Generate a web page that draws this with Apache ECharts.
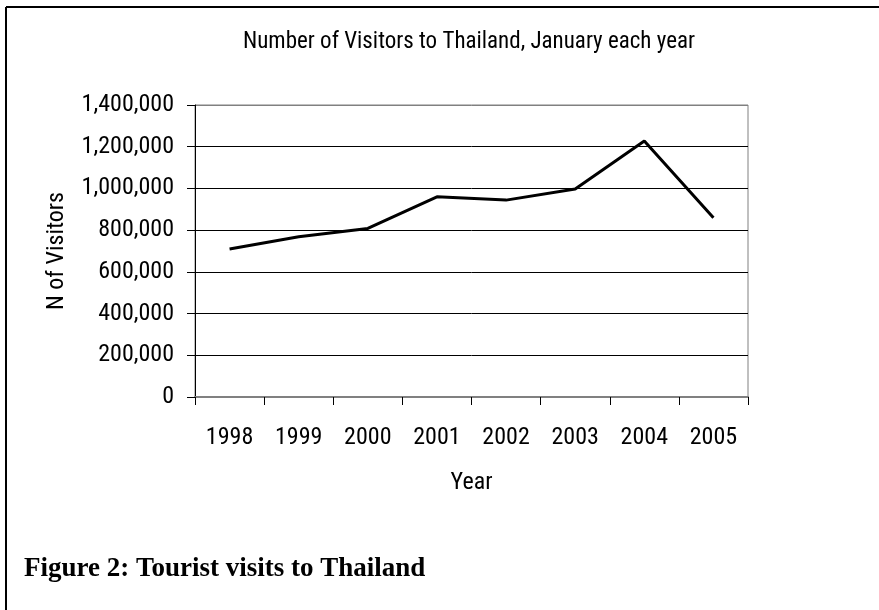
<!DOCTYPE html>
<html>
<head>
<meta charset="utf-8">
<script src="https://cdn.jsdelivr.net/npm/echarts@6/dist/echarts.min.js"></script>
<style>
html,body{margin:0;padding:0;background:#fff;}
#chart{width:879px;height:610px;}
</style>
</head>
<body>
<div id="chart"></div>
<script>
var years = ['1998','1999','2000','2001','2002','2003','2004','2005'];
var visitors = [710000, 768000, 808000, 960000, 944000, 997000, 1227000, 859000];
var chartTitle = 'Number of Visitors to Thailand, January each year';
var caption = 'Figure 2: Tourist visits to Thailand';
var xName = 'Year';
var yName = 'N of Visitors';

var FONT = '"Liberation Sans Narrow", "Roboto Condensed", "DejaVu Sans Condensed", "Liberation Sans", sans-serif';
var FS = 24;
var chart = echarts.init(document.getElementById('chart'), null, {renderer: 'canvas'});
chart.setOption({
  animation: false,
  backgroundColor: '#fff',
  title: [
    {text: chartTitle, left: 464, top: 26, textAlign: 'center',
     textStyle: {fontFamily: FONT, fontSize: 23, fontWeight: 'normal', color: '#000'}},
    {text: caption, left: 19, top: 551,
     textStyle: {fontFamily: '"Liberation Serif", "Times New Roman", serif', fontSize: 27, fontWeight: 'bold', color: '#000'}}
  ],
  graphic: [
    {type: 'line', shape: {x1: 6, y1: 7, x2: 879, y2: 7}, style: {stroke: '#000', lineWidth: 2}},
    {type: 'line', shape: {x1: 6, y1: 7, x2: 6, y2: 610}, style: {stroke: '#000', lineWidth: 2}}
  ],
  grid: {left: 195, right: 131, top: 105, bottom: 213, show: true, borderColor: '#808080', borderWidth: 1, containLabel: false},
  xAxis: {
    type: 'category', data: years, boundaryGap: true,
    name: xName, nameLocation: 'middle', nameGap: 74,
    nameTextStyle: {fontFamily: FONT, fontSize: FS, color: '#000'},
    axisLine: {show: true, lineStyle: {color: '#808080', width: 2}},
    axisTick: {show: true, interval: 0, length: 8, lineStyle: {color: '#000', width: 1}},
    axisLabel: {interval: 0, margin: 29, fontFamily: FONT, fontSize: FS, color: '#000'},
    splitLine: {show: false}
  },
  yAxis: {
    type: 'value', min: 0, max: 1400000, interval: 200000,
    name: yName, nameLocation: 'middle', nameGap: 126, nameRotate: 90,
    nameTextStyle: {fontFamily: FONT, fontSize: FS, color: '#000'},
    axisLine: {show: true, lineStyle: {color: '#000', width: 1}},
    axisTick: {show: true, length: 8, lineStyle: {color: '#000', width: 1}},
    axisLabel: {margin: 21, fontFamily: FONT, fontSize: FS, color: '#000',
      formatter: function (v) { return v.toLocaleString('en-US'); }},
    splitLine: {show: true, lineStyle: {color: ['#808080','#000','#000','#000','#000','#000','#000','#808080'], width: 1}}
  },
  series: [{
    type: 'line', data: visitors, showSymbol: false, symbol: 'none',
    lineStyle: {color: '#000', width: 3}, itemStyle: {color: '#000'}
  }]
});
</script>
</body>
</html>
